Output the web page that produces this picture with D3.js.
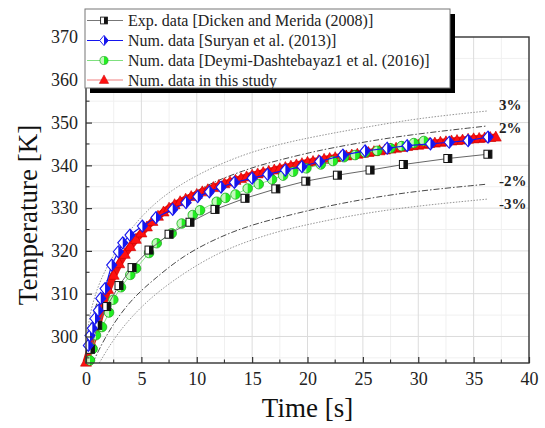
<!DOCTYPE html>
<html lang="en">
<head>
  <meta charset="UTF-8">
  <title>Temperature vs Time</title>
  <style>
    body {
      margin: 0;
      padding: 0;
      background-color: white;
    }
    svg {
      display: block;
    }
    svg text {
      font-family: "Liberation Serif", "Times New Roman", serif !important;
    }
    .grid-major {
      stroke: #dcdcdc;
      stroke-width: 1;
    }
    .grid-minor {
      stroke: #f0f0f0;
      stroke-width: 1;
    }
  </style>
</head>
<body>
  <div id="chart"></div>

  <script src="https://d3js.org/d3.v7.min.js"></script>
  <script>
    // Exp. data [Dicken and Merida (2008)]
    const expTime = [0.4, 1.06, 1.87, 2.98, 4.16, 5.69, 7.5, 9.39, 11.65, 14.36, 17.14, 19.85, 22.7, 25.65, 28.66, 32.67, 36.29];
    const expTemp = [297.0, 302.6, 307.0, 311.9, 316.1, 320.2, 323.9, 326.7, 329.7, 332.3, 334.5, 336.3, 337.7, 338.9, 340.2, 341.6, 342.6];

    // Num. data [Suryan et al. (2013)]
    const surTime = [0.21, 0.36, 0.57, 0.81, 1.11, 1.33, 1.72, 2.32, 2.92, 3.32, 3.97, 5.09, 6.32, 7.83, 9.03, 10.09, 11.14, 12.2, 13.4, 15.0, 16.4, 18.0, 19.5, 21.1, 23.2, 25.2, 27.2, 29.0, 31.1, 32.8, 34.5, 36.3];
    const surTemp = [297.9, 300.2, 301.9, 304.2, 306.1, 308.9, 311.2, 316.7, 319.8, 321.9, 323.7, 325.8, 327.8, 329.7, 331.3, 332.7, 333.8, 334.9, 336.0, 337.0, 337.9, 338.9, 339.7, 340.9, 342.4, 343.4, 344.0, 344.6, 345.0, 345.4, 345.8, 346.6];

    // Num. data [Deymi-Dashtebayaz1 et al. (2016)]
    const deyTime = [0.36, 0.6, 0.9, 1.45, 2.08, 2.47, 3.16, 4.0, 4.52, 5.69, 6.39, 7.74, 8.64, 9.64, 10.3, 11.8, 12.6, 13.5, 14.6, 15.6, 16.8, 17.8, 18.7, 19.9, 21.2, 22.3, 23.3, 24.3, 25.2, 26.3, 27.5, 28.5, 29.6, 30.5];
    const deyTemp = [294.4, 297.1, 300.3, 302.2, 305.6, 308.6, 311.5, 314.4, 315.9, 319.5, 321.8, 324.1, 326.4, 328.4, 329.5, 331.5, 332.4, 333.2, 334.6, 335.6, 336.7, 337.6, 338.5, 339.3, 340.2, 341.0, 341.9, 342.4, 343.0, 343.4, 344.0, 344.5, 345.2, 345.7];

    // Num. data in this study
    const studyTime = [0, 0.5, 1, 1.5, 2, 2.5, 3, 3.5, 4, 4.5, 5, 5.5, 6, 6.5, 7, 7.5, 8, 8.5, 9, 9.5, 10, 10.5, 11, 11.5, 12, 12.5, 13, 13.5, 14, 14.5, 15, 15.5, 16, 16.5, 17, 17.5, 18, 18.5, 19, 19.5, 20, 20.5, 21, 21.5, 22, 22.5, 23, 23.5, 24, 24.5, 25, 25.5, 26, 26.5, 27, 27.5, 28, 28.5, 29, 29.5, 30, 30.5, 31, 31.5, 32, 32.5, 33, 33.5, 34, 34.5, 35, 35.5, 36, 36.5, 37];
    const studyTemp = [294.0, 298.3, 302.2, 307.0, 311.0, 314.3, 317.0, 319.2, 321.0, 322.7, 324.2, 325.6, 326.9, 328.1, 329.1, 330.0, 330.8, 331.5, 332.1, 332.7, 333.2, 333.8, 334.3, 334.8, 335.3, 335.7, 336.1, 336.5, 336.9, 337.3, 337.7, 338.0, 338.3, 338.6, 338.9, 339.2, 339.5, 339.8, 340.1, 340.4, 340.7, 340.9, 341.1, 341.4, 341.6, 341.8, 342.0, 342.2, 342.4, 342.6, 342.8, 343.0, 343.2, 343.4, 343.6, 343.8, 344.0, 344.2, 344.4, 344.6, 344.7, 344.9, 345.1, 345.2, 345.4, 345.5, 345.7, 345.8, 345.9, 346.1, 346.2, 346.3, 346.4, 346.5, 346.6];

    // error band curves (+3%, +2%, -2%, -3%)
    const plus3Time = [0.1, 0.4, 1.06, 1.87, 2.98, 4.16, 6.39, 10.0, 15.1, 20.5, 24.8, 29.9, 36.2];
    const plus3Temp = [300.5, 306.0, 311.7, 316.2, 321.2, 325.6, 331.9, 338.0, 343.6, 346.7, 348.7, 351.0, 352.7];
    const plus2Time = [0.1, 0.4, 1.06, 1.87, 2.98, 4.16, 5.69, 7.43, 9.39, 11.65, 14.36, 16.3, 20.5, 22.9, 24.8, 29.0, 36.2];
    const plus2Temp = [298.5, 303.0, 308.7, 313.1, 318.1, 322.4, 326.6, 330.6, 333.2, 336.3, 338.9, 340.5, 343.2, 344.4, 345.3, 347.1, 349.2];
    const minus2Time = [0.6, 1.87, 3.97, 6.39, 8.79, 11.8, 14.8, 17.8, 20.8, 23.8, 29.0, 36.2];
    const minus2Temp = [293.8, 300.7, 308.5, 313.9, 318.9, 323.0, 326.0, 328.0, 329.9, 331.5, 333.8, 335.6];
    const minus3Time = [1.2, 2.77, 5.48, 8.79, 11.8, 14.8, 17.8, 20.8, 23.8, 29.0, 36.2];
    const minus3Temp = [293.8, 300.7, 308.5, 314.8, 319.4, 322.5, 324.9, 326.6, 328.2, 330.3, 332.1];

    const bandLabels = ['3%', '2%', '-2%', '-3%'];
    const bandLabelTemp = [352.9, 347.5, 335.1, 329.8];

    const xTicks = [0, 5, 10, 15, 20, 25, 30, 35, 40];
    const yTicks = [300, 310, 320, 330, 340, 350, 360, 370];

    const legendLabels = [
      'Exp. data [Dicken and Merida (2008)]',
      'Num. data [Suryan et al. (2013)]',
      'Num. data [Deymi-Dashtebayaz1 et al. (2016)]',
      'Num. data in this study'
    ];

    const W = 545, H = 428;
    const margin = { top: 37, right: 16, bottom: 65, left: 86 };

    const svg = d3.select('#chart').append('svg')
      .attr('width', W)
      .attr('height', H);

    const x = d3.scaleLinear().domain([0, 40]).range([margin.left, W - margin.right]);
    const y = d3.scaleLinear().domain([293.8, 370]).range([H - margin.bottom, margin.top]);

    const zip = (a, b) => a.map((v, i) => [v, b[i]]);

    svg.append('defs').append('clipPath').attr('id', 'plotclip')
      .append('rect')
      .attr('x', x(0)).attr('y', y(370))
      .attr('width', x(40) - x(0)).attr('height', y(293.8) - y(370));

    // grid lines
    const grid = svg.append('g');
    d3.range(2.5, 40, 5).forEach(v => {
      grid.append('line').attr('class', 'grid-minor')
        .attr('x1', x(v)).attr('x2', x(v)).attr('y1', y(370)).attr('y2', y(293.8));
    });
    d3.range(295, 370, 10).forEach(v => {
      grid.append('line').attr('class', 'grid-minor')
        .attr('x1', x(0)).attr('x2', x(40)).attr('y1', y(v)).attr('y2', y(v));
    });
    xTicks.slice(1, -1).forEach(v => {
      grid.append('line').attr('class', 'grid-major')
        .attr('x1', x(v)).attr('x2', x(v)).attr('y1', y(370)).attr('y2', y(293.8));
    });
    yTicks.slice(0, -1).forEach(v => {
      grid.append('line').attr('class', 'grid-major')
        .attr('x1', x(0)).attr('x2', x(40)).attr('y1', y(v)).attr('y2', y(v));
    });

    const plot = svg.append('g').attr('clip-path', 'url(#plotclip)');

    // error bands
    const smooth = d3.line().x(d => x(d[0])).y(d => y(d[1])).curve(d3.curveBasis);
    const bands = [
      { t: plus3Time, v: plus3Temp, dash: '1.5,1.5', color: '#888' },
      { t: plus2Time, v: plus2Temp, dash: '6,2,1.5,2', color: '#333' },
      { t: minus2Time, v: minus2Temp, dash: '6,2,1.5,2', color: '#333' },
      { t: minus3Time, v: minus3Temp, dash: '1.5,1.5', color: '#888' }
    ];
    bands.forEach(b => {
      plot.append('path')
        .attr('d', smooth(zip(b.t, b.v)))
        .attr('fill', 'none')
        .attr('stroke', b.color)
        .attr('stroke-width', 0.9)
        .attr('stroke-dasharray', b.dash);
    });

    svg.selectAll('.band-label')
      .data(bandLabels)
      .enter().append('text')
      .attr('class', 'band-label')
      .attr('x', x(37.3))
      .attr('y', (d, i) => y(bandLabelTemp[i]))
      .attr('font-size', '15px')
      .attr('font-weight', 'bold')
      .attr('fill', '#222')
      .text(d => d);

    const straight = d3.line().x(d => x(d[0])).y(d => y(d[1]));

    // marker drawing helpers
    function triangle(g, color) {
      g.append('path').attr('d', 'M0,-6L5.5,4L-5.5,4Z')
        .attr('fill', color).attr('stroke', '#c80000').attr('stroke-width', 0.6);
    }
    function circleHalf(g) {
      g.append('circle').attr('r', 4.8).attr('fill', '#22ee22').attr('stroke', '#1c9c1c').attr('stroke-width', 0.7);
      g.append('path').attr('d', 'M0,-4.3A4.3,4.3 0 0 0 0,4.3Z').attr('fill', '#c4f7bd');
    }
    function squareHalf(g) {
      g.append('rect').attr('x', -4).attr('y', -4).attr('width', 8).attr('height', 8)
        .attr('fill', 'white').attr('stroke', '#111').attr('stroke-width', 1);
      g.append('rect').attr('x', 0).attr('y', -4).attr('width', 4).attr('height', 8).attr('fill', '#111');
    }
    function diamondHalf(g) {
      g.append('path').attr('d', 'M0,-6L5,0L0,6L-5,0Z')
        .attr('fill', 'white').attr('stroke', '#1515ee').attr('stroke-width', 1.1);
      g.append('path').attr('d', 'M0,-6L5,0L0,6Z').attr('fill', '#1515ee');
    }

    function drawSeries(t, v, lineColor, lineWidth, marker) {
      const pts = zip(t, v);
      svg.append('path')
        .attr('d', straight(pts))
        .attr('fill', 'none')
        .attr('stroke', lineColor)
        .attr('stroke-width', lineWidth)
        .attr('stroke-linejoin', 'round');
      svg.append('g').selectAll('g')
        .data(pts)
        .enter().append('g')
        .attr('transform', d => `translate(${x(d[0])},${y(d[1])})`)
        .each(function() { marker(d3.select(this)); });
    }

    // the study's markers are so dense they form a solid red band
    drawSeries(studyTime, studyTemp, '#f01010', 7, g => triangle(g, '#ff1010'));
    drawSeries(deyTime, deyTemp, '#6fdc6f', 0.8, circleHalf);
    drawSeries(expTime, expTemp, '#666', 1, squareHalf);
    drawSeries(surTime, surTemp, '#1515ee', 1.2, diamondHalf);

    // axes (ticks pointing inward)
    const xAxis = svg.append('g').attr('transform', `translate(0,${y(293.8)})`)
      .call(d3.axisBottom(x).tickValues(xTicks).tickSize(-6).tickPadding(9).tickFormat(d3.format('d')));
    const yAxis = svg.append('g').attr('transform', `translate(${x(0)},0)`)
      .call(d3.axisLeft(y).tickValues(yTicks).tickSize(-6).tickPadding(8).tickFormat(d3.format('d')));
    [xAxis, yAxis].forEach(a => {
      a.attr('font-family', null);
      a.select('.domain').remove();
      a.selectAll('line').attr('stroke', '#333').attr('stroke-width', 1.2);
      a.selectAll('text').attr('font-size', '18px').attr('fill', '#222');
    });

    // minor ticks
    d3.range(2.5, 40, 5).forEach(v => {
      svg.append('line').attr('x1', x(v)).attr('x2', x(v))
        .attr('y1', y(293.8)).attr('y2', y(293.8) - 3.5)
        .attr('stroke', '#333').attr('stroke-width', 1.1);
    });
    d3.range(295, 370, 10).forEach(v => {
      svg.append('line').attr('x1', x(0)).attr('x2', x(0) + 3.5)
        .attr('y1', y(v)).attr('y2', y(v))
        .attr('stroke', '#333').attr('stroke-width', 1.1);
    });

    // frame
    svg.append('rect')
      .attr('x', x(0)).attr('y', y(370))
      .attr('width', x(40) - x(0)).attr('height', y(293.8) - y(370))
      .attr('fill', 'none').attr('stroke', '#333').attr('stroke-width', 1.4);

    // axis titles
    svg.append('text')
      .attr('x', (x(0) + x(40)) / 2)
      .attr('y', 417)
      .attr('text-anchor', 'middle')
      .attr('font-size', '27px')
      .attr('fill', '#111')
      .text('Time [s]');

    svg.append('text')
      .attr('transform', `translate(37,215) rotate(-90)`)
      .attr('text-anchor', 'middle')
      .attr('font-size', '27px')
      .attr('fill', '#111')
      .text('Temperature [K]');

    // legend with drop shadow
    const legend = svg.append('g');
    legend.append('rect').attr('x', 90).attr('y', 14).attr('width', 365).attr('height', 79).attr('fill', '#000');
    legend.append('rect').attr('x', 85).attr('y', 9).attr('width', 365).attr('height', 79)
      .attr('fill', 'white').attr('stroke', '#777').attr('stroke-width', 1);

    const legendColors = ['#777', '#1515ee', '#7fe07f', '#f08080'];
    const legendMarkers = [squareHalf, diamondHalf, circleHalf, g => triangle(g, '#ff1010')];
    const rowY = [20.5, 40.5, 60.5, 80];

    legendLabels.forEach((label, i) => {
      legend.append('line')
        .attr('x1', 87).attr('x2', 123).attr('y1', rowY[i]).attr('y2', rowY[i])
        .attr('stroke', legendColors[i]).attr('stroke-width', 1);
      const m = legend.append('g').attr('transform', `translate(104,${rowY[i]}) scale(0.85)`);
      legendMarkers[i](m);
      legend.append('text')
        .attr('x', 128).attr('y', rowY[i] + 5.5)
        .attr('font-size', '16px')
        .attr('fill', '#222')
        .text(label);
    });
  </script>
</body>
</html>
